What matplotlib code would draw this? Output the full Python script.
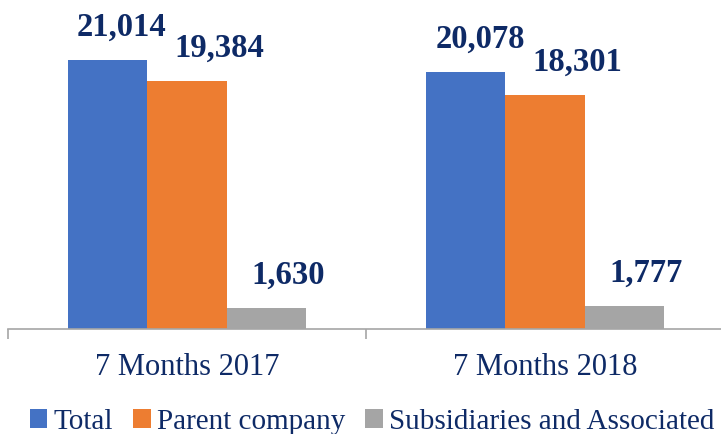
import matplotlib
matplotlib.use("Agg")
import matplotlib.pyplot as plt
import numpy as np

categories = ["7 Months 2017", "7 Months 2018"]
series_names = ["Total", "Parent company", "Subsidiaries and Associated"]
total = [21014, 20078]
parent = [19384, 18301]
subsidiaries = [1630, 1777]

colors = ["#4472C4", "#ED7D31", "#A5A5A5"]
navy = "#0E2A66"
label_dx = [14, 32, 22]  # pixel nudges of the value labels

plt.rcParams["font.family"] = ["Liberation Serif", "DejaVu Serif"]

fig = plt.figure(figsize=(7.21, 4.34), dpi=100)
ax = fig.add_axes([8 / 721, 105 / 434, 716 / 721, 320 / 434])

x = np.arange(len(categories))
w = 0.221
values = [total, parent, subsidiaries]
for i, (name, vals) in enumerate(zip(series_names, values)):
    pos = x + (i - 1) * w
    ax.bar(pos, vals, width=w, color=colors[i], label=name)
    for px, v in zip(pos, vals):
        ax.annotate(f"{v:,}", (px, v), xytext=(label_dx[i], 24),
                    textcoords="offset pixels", ha="center", va="baseline",
                    fontsize=23.5, fontweight="bold", color=navy)

ax.set_xlim(-0.5, 1.5)
ax.set_ylim(0, 25000)
ax.set_yticks([])
ax.set_xticks(x)
ax.set_xticklabels(categories, fontsize=22, color=navy)
ax.tick_params(axis="x", which="major", length=0, pad=17)
ax.set_xticks([-0.5, 0.5, 1.5], minor=True)
ax.tick_params(axis="x", which="minor", length=7, width=1.2, color="#A6A6A6")
for s in ["top", "right", "left"]:
    ax.spines[s].set_visible(False)
ax.spines["bottom"].set_color("#A6A6A6")
ax.spines["bottom"].set_linewidth(1.2)

fig.legend(loc="center", bbox_to_anchor=(0.516, 0.028), ncol=3, frameon=False,
           fontsize=21, handlelength=0.6, handleheight=0.6, handletextpad=0.2,
           columnspacing=0.7, labelcolor=navy, borderpad=0)

fig.savefig("out.png", dpi=100)
